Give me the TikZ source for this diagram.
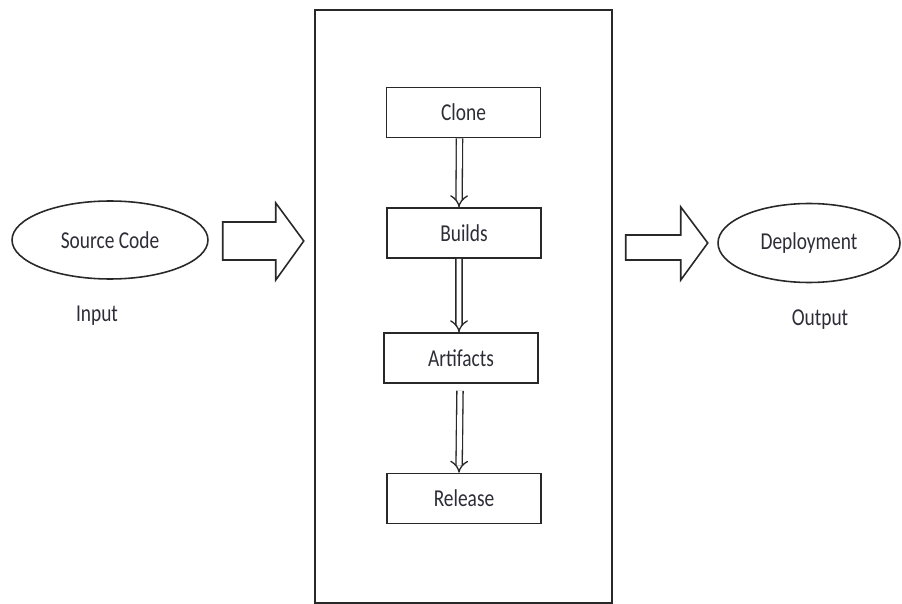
\documentclass[tikz,border=0pt]{standalone}
\usepackage{fontspec}
\newfontfamily\diagfont{Carlito}[FakeStretch=0.8]
\definecolor{lineblk}{RGB}{40,40,40}
\definecolor{txtblk}{RGB}{45,45,55}
\usetikzlibrary{arrows.meta,positioning,shapes.geometric,calc}

\begin{document}
\begin{tikzpicture}[x=0.02cm,y=-0.02cm,
    every node/.style={font=\diagfont\fontsize{13.8}{16}\selectfont,text=txtblk},
    endpoint/.style={draw=lineblk,ellipse,line width=0.9pt,inner sep=0pt},
    stagebox/.style={draw=lineblk,line width=0.9pt,minimum width=3.08cm,minimum height=1cm,inner sep=0pt},
    bigarrow/.style={draw=lineblk,line width=0.9pt,line join=miter,fill=white},
    steparrow/.style={draw=lineblk,double=white,double distance=2.8pt,line width=0.75pt,-{Implies}}]
  \useasboundingbox (0,0) rectangle (902,604);
  % Input
  \node[endpoint,minimum width=3.92cm,minimum height=1.56cm] (src) at (110,240) {Source Code};
  \node[below=0.4cm of src,xshift=-0.26cm] (input) {Input};
  % Pipeline
  \node[draw=lineblk,line width=0.9pt,minimum width=5.94cm,minimum height=11.86cm] (pipe) at (463.5,306.5) {};
  \node[stagebox] (clone) at (463.5,112.5) {Clone};
  \node[stagebox] (builds) at (464,233) {Builds};
  \node[stagebox] (artifacts) at (461,358) {Artifacts};
  \node[stagebox] (release) at (464,498.5) {Release};
  % Output
  \node[endpoint,minimum width=3.64cm,minimum height=1.58cm] (dep) at (809,243) {Deployment};
  \node[below=0.4cm of dep,xshift=0.22cm] (output) {Output};
  % Big arrows
  \draw[bigarrow] ($(src.east)+(14,-18)$) -- ++(53,0) -- ++(0,-19) -- ++(28,38)
    -- ++(-28,39) -- ++(0,-20) -- ++(-53,0) -- cycle;
  \draw[bigarrow] ($(pipe.east |- dep.west)+(13,-8)$) -- ++(55,0) -- ++(0,-28) -- ++(27,36)
    -- ++(-27,37) -- ++(0,-20) -- ++(-55,0) -- cycle;
  % Steps
  \draw[steparrow] ([xshift=-0.08cm]clone.south) -- ([xshift=-0.1cm]builds.north);
  \draw[steparrow] ([xshift=-0.1cm]builds.south) -- ([xshift=-0.04cm]artifacts.north);
  \draw[steparrow] ([xshift=-0.02cm,yshift=-0.14cm]artifacts.south) -- ([xshift=-0.1cm]release.north);
\end{tikzpicture}
\end{document}
